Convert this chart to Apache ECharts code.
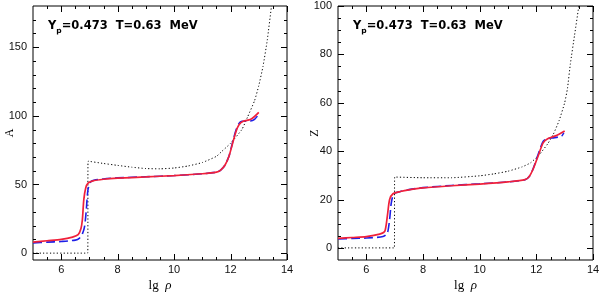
<!DOCTYPE html>
<html><head><meta charset="utf-8">
<script src="https://cdn.jsdelivr.net/npm/echarts@6/dist/echarts.min.js"></script>
<style>html,body{margin:0;padding:0;background:#fff}#c{width:600px;height:292px}</style>
</head><body><div id="c"></div>
<script>
// ---- Data ----
// Left panel: A vs lg rho
const aRedX  = [5.0,5.5,6.0,6.4,6.6,6.7,6.75,6.8,6.87,6.95,7.1,7.5,8,9,10,11,11.5,11.65,11.8,11.95,12.1,12.2,12.3,12.45,12.7,12.85,13.0];
const aRedY  = [8.0,9.0,10.0,11.7,13.5,18,24.5,39,47.6,51,52.5,53.8,54.6,55.5,56.5,57.8,59,60.5,64,71,82,89,93.5,96,97.3,99.5,102.5];
const aBlueX = [5.0,5.5,6.0,6.5,6.65,6.75,6.83,6.89,6.95,7.07,7.5,8,9,10,11,11.5,11.65,11.8,11.95,12.1,12.2,12.3,12.4,12.7,12.85,12.97];
const aBlueY = [7.5,8.0,8.5,9.5,11,14,19.7,31.8,46.4,52.4,54,54.8,55.6,56.5,57.8,59,60.5,64,71,83,90,94.5,96,96.2,97.5,100.3];
const aDotX  = [5.0,6.94,6.95,7.5,8,8.5,9,9.5,10,10.5,11,11.5,11.7,12.0,12.4,12.6,12.85,13.0,13.15,13.3,13.45];
const aDotY  = [0,0,67,65.3,63.9,62.6,61.6,61.4,62,63.5,66,70.5,74.3,80,90,99,111,122,136,155,180];
// Right panel: Z vs lg rho
const zRedX  = [5.0,5.5,6.0,6.47,6.65,6.74,6.82,6.94,7.2,7.5,8,9,10,11,11.6,11.75,11.88,12.06,12.24,12.4,12.65,12.8,13.0];
const zRedY  = [3.9,4.3,4.7,5.7,6.8,13,19.9,22.4,23.3,24,24.8,25.7,26.4,27.3,28.2,29.5,32.4,37.9,43.4,45.1,46.2,47,48.3];
const zBlueX = [5.0,5.5,6.0,6.59,6.74,6.82,6.88,6.97,7.2,7.5,8,9,10,11,11.6,11.75,11.88,12.06,12.24,12.4,12.6,12.89,12.97];
const zBlueY = [3.7,3.9,4.1,4.7,6.1,11.6,18.5,22.4,23.3,24.1,24.9,25.8,26.5,27.3,28.2,29.5,32.5,38.5,44,45.3,45.5,46.2,47.6];
const zDotX  = [5.0,6.99,7.0,8,9,10,10.5,11,11.5,11.8,12.1,12.4,12.6,12.8,13.0,13.1,13.2,13.35,13.5];
const zDotY  = [0,0,29.3,29,29,29.8,30.6,31.7,33.5,35.2,38.5,43,47,52.5,60,66,76,88,100];
// Ticks
const xMajor = [6,8,10,12,14];
const xMinor = [5.5,6.5,7,7.5,8.5,9,9.5,10.5,11,11.5,12.5,13,13.5];
const aMajor = [0,50,100,150];
const aMinor = [10,20,30,40,60,70,80,90,110,120,130,140,160,170];
const zMajor = [0,20,40,60,80,100];
const zMinor = [5,10,15,25,30,35,45,50,55,65,70,75,85,90,95];
const xRange = [5,14], aRange = [-5,180], zRange = [-5,100];
const annot = '{b|Y}{s|p}{b|=0.473  T=0.63  MeV}';

// ---- Build ----
const pairs = (xs, ys) => xs.map((x,i)=>[x, ys[i]]);
const lblStyle = {color:'#111', fontFamily:'Liberation Sans', fontSize:11};
const TICK_COLOR = '#000';

function xAxisFor(grid) {
  return {
    type:'value', gridIndex:grid, position:'bottom', min:xRange[0], max:xRange[1],
    axisLine:{show:false, onZero:false}, axisTick:{show:false}, splitLine:{show:false},
    axisLabel:Object.assign({show:true, customValues:xMajor, margin:4}, lblStyle),
    name:'lg  {r|ρ}', nameLocation:'middle', nameGap:19, nameMoveOverlap:false,
    nameTextStyle:{fontFamily:'Liberation Serif', fontSize:13, color:'#000',
      rich:{r:{fontFamily:'Liberation Serif', fontSize:13, fontStyle:'italic', color:'#000'}}}
  };
}
function yAxisFor(grid, range, major, name) {
  return {
    type:'value', gridIndex:grid, position:'left', min:range[0], max:range[1],
    axisLine:{show:false, onZero:false}, axisTick:{show:false}, splitLine:{show:false},
    axisLabel:Object.assign({show:true, customValues:major, margin:6}, lblStyle),
    name:name, nameLocation:'middle', nameGap:17, nameRotate:90, nameMoveOverlap:false,
    nameTextStyle:{fontFamily:'Liberation Serif', fontSize:12, color:'#000'}
  };
}
// Tick marks on all four sides, drawn through the axes' scales
function tickSeries(gi, yRange, yMajor, yMinor) {
  const xData = xMajor.map(v=>[v, yRange[0], 1]).concat(xMinor.map(v=>[v, yRange[0], 0]));
  const yData = yMajor.map(v=>[xRange[0], v, 1]).concat(yMinor.map(v=>[xRange[0], v, 0]));
  const st = {stroke:TICK_COLOR, lineWidth:1};
  return [
    {type:'custom', xAxisIndex:gi, yAxisIndex:gi, data:xData, z:5,
     renderItem:function(p, api){
       const v = api.value(0), len = api.value(2) ? 6 : 3;
       const b = api.coord([v, yRange[0]]), t = api.coord([v, yRange[1]]);
       const x = Math.round(b[0]) + 0.5;
       return {type:'group', children:[
         {type:'line', shape:{x1:x, y1:b[1], x2:x, y2:b[1]-len}, style:st},
         {type:'line', shape:{x1:x, y1:t[1], x2:x, y2:t[1]+len}, style:st}
       ]};
     }},
    {type:'custom', xAxisIndex:gi, yAxisIndex:gi, data:yData, z:5,
     renderItem:function(p, api){
       const v = api.value(1), len = api.value(2) ? 6 : 3;
       const l = api.coord([xRange[0], v]), r = api.coord([xRange[1], v]);
       const y = Math.round(l[1]) + 0.5;
       return {type:'group', children:[
         {type:'line', shape:{x1:l[0], y1:y, x2:l[0]+len, y2:y}, style:st},
         {type:'line', shape:{x1:r[0], y1:y, x2:r[0]-len, y2:y}, style:st}
       ]};
     }}
  ];
}
function seriesSet(gi, dot, blue, red) {
  return [
    {type:'line', xAxisIndex:gi, yAxisIndex:gi, data:dot, showSymbol:false, smooth:0.15,
     lineStyle:{color:'#000', width:1, type:[1.2,2.2]}, z:2},
    {type:'line', xAxisIndex:gi, yAxisIndex:gi, data:blue, showSymbol:false, smooth:0.25,
     lineStyle:{color:'#1f1fe6', width:1.6, type:[9,4]}, z:3},
    {type:'line', xAxisIndex:gi, yAxisIndex:gi, data:red, showSymbol:false, smooth:0.25,
     lineStyle:{color:'#f0203a', width:1.7}, z:4}
  ];
}

const richAnn = {
  b:{fontFamily:'DejaVu Sans', fontWeight:'bold', fontSize:11.5, color:'#000', lineHeight:18},
  s:{fontFamily:'DejaVu Sans', fontWeight:'bold', fontSize:7.5, color:'#000', verticalAlign:'bottom', lineHeight:18}
};

const gridBase = {show:true, borderColor:'#000', borderWidth:1, backgroundColor:'transparent',
  containLabel:false, outerBoundsMode:'none'};
const option = {
  animation:false,
  backgroundColor:'#fff',
  grid:[
    Object.assign({left:33, top:6, width:254, height:254}, gridBase),
    Object.assign({left:338, top:6, width:255, height:254}, gridBase)
  ],
  xAxis:[xAxisFor(0), xAxisFor(1)],
  yAxis:[yAxisFor(0, aRange, aMajor, 'A'), yAxisFor(1, zRange, zMajor, 'Z')],
  series: tickSeries(0, aRange, aMajor, aMinor)
    .concat(tickSeries(1, zRange, zMajor, zMinor))
    .concat(seriesSet(0, pairs(aDotX,aDotY), pairs(aBlueX,aBlueY), pairs(aRedX,aRedY)))
    .concat(seriesSet(1, pairs(zDotX,zDotY), pairs(zBlueX,zBlueY), pairs(zRedX,zRedY))),
  graphic:[
    {type:'text', left:48, top:20, style:{text:annot, rich:richAnn}},
    {type:'text', left:353, top:20, style:{text:annot, rich:richAnn}}
  ]
};
const chart = echarts.init(document.getElementById('c'), null, {renderer:'canvas'});
chart.setOption(option);
</script>
</body></html>
